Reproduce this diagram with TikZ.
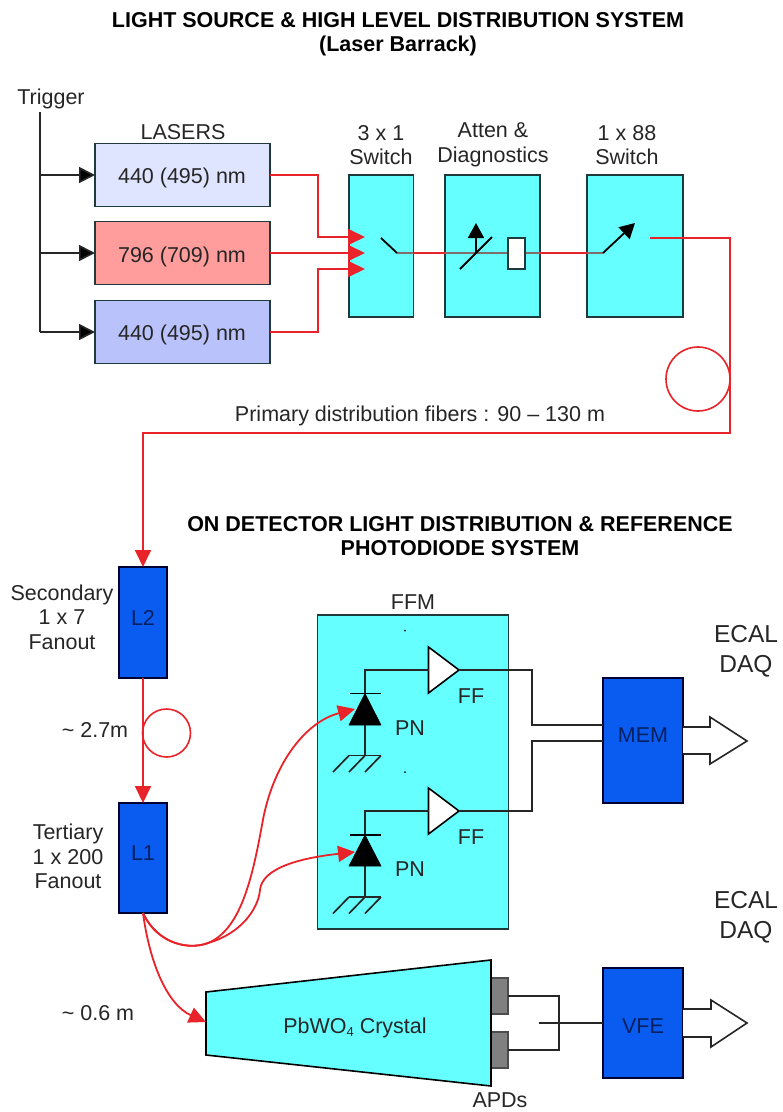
\documentclass[tikz,border=0pt]{standalone}
\usepackage{fontspec}
\setmainfont{Liberation Sans}
\usetikzlibrary{arrows.meta}
\definecolor{ink}{HTML}{262626}
\definecolor{cyanbox}{HTML}{66FFFF}
\definecolor{bluebox}{HTML}{0A5CF0}
\definecolor{navy}{HTML}{06205F}
\definecolor{redline}{HTML}{E8242A}
\definecolor{edgegray}{HTML}{1F3A3A}
\definecolor{greyline}{HTML}{7F6F6A}
\definecolor{laslight}{HTML}{DFE4FF}
\definecolor{lasred}{HTML}{FF9C9C}
\definecolor{lasblue}{HTML}{B9C2FB}
\tikzset{
  every node/.style={inner sep=0pt,outer sep=0pt,text=ink,font=\fontsize{21.5}{24.5}\selectfont},
  lbl/.style={align=center},
  big/.style={align=center,font=\fontsize{24.5}{30}\selectfont},
  ttl/.style={align=center,text=black,font=\fontsize{21.5}{24}\selectfont\bfseries},
  boxed/.style={draw=edgegray,line width=1.8pt},
  laser/.style={boxed,minimum width=175pt,minimum height=63pt},
  cyanrect/.style={boxed,fill=cyanbox},
  bluerect/.style={draw=black!80!blue,line width=1.6pt,fill=bluebox,text=navy},
  wire/.style={draw=black!85,line width=1.7pt},
  fiber/.style={draw=redline,line width=1.8pt},
  blacktip/.style={-{Triangle[length=16pt,width=16pt,fill=black]}},
  redtip/.style={-{Triangle[length=17pt,width=16pt,fill=redline,color=redline]}},
  sw/.style={draw=black,line width=1.8pt},
  inboxline/.style={draw=greyline,line width=1.8pt},
  diode/.style={fill=black,draw=black,line width=.6pt},
  pt/.style={minimum size=0pt},
}
\begin{document}
\begin{tikzpicture}[x=1pt,y=-1pt]
\clip (0,0) rectangle (783,1112);
\fill[white] (0,0) rectangle (783,1112);

% titles
\node[ttl] (title1) at (398,34) {LIGHT SOURCE \& HIGH LEVEL DISTRIBUTION SYSTEM\\(Laser Barrack)};
\node[ttl] (title2) at (460,536) {ON DETECTOR LIGHT DISTRIBUTION \& REFERENCE\\PHOTODIODE SYSTEM};

% lasers
\node[lbl] (trig) at (51,99) {Trigger};
\node[lbl] (lasers) at (183,132) {LASERS};
\node[laser,fill=laslight] (las1) at (182.5,175) {};
\node[laser,fill=lasred] (las2) at (182.5,253) {};
\node[laser,fill=lasblue] (las3) at (182.5,332) {};
\node (las1t) at (182,178) {440 (495) nm};
\node (las2t) at (182,257) {796 (709) nm};
\node (las3t) at (182,335) {440 (495) nm};

% trigger bus
\coordinate (tt) at (40,112);
\coordinate (t1) at (40,175);
\coordinate (t2) at (40,253);
\coordinate (t3) at (40,332);
\draw[wire] (tt) -- (t3);
\draw[wire,blacktip] (t1) -- (las1.west);
\draw[wire,blacktip] (t2) -- (las2.west);
\draw[wire,blacktip] (t3) -- (las3.west);

% boxes
\node[cyanrect,minimum width=64.5pt,minimum height=142pt] (sw3) at (381.2,246) {};
\node[cyanrect,minimum width=95pt,minimum height=142pt] (att) at (492.5,246) {};
\node[cyanrect,minimum width=96pt,minimum height=142pt] (sw88) at (635,246) {};
\node[lbl] (sw3l) at (381,145) {3 x 1\\Switch};
\node[lbl] (attl) at (493,145) {Atten \&\\Diagnostics};
\node[lbl] (sw88l) at (627,145) {1 x 88\\Switch};

% red inputs
\coordinate (in1) at (365,237);
\coordinate (in2) at (365,253);
\coordinate (in3) at (365,269);
\draw[fiber,redtip] (las1.east) -- (318,175) -- (318,237) -- (in1);
\draw[fiber,redtip] (las2.east) -- (in2);
\draw[fiber,redtip] (las3.east) -- (318,332) -- (318,269) -- (in3);

% main optical line
\coordinate (pivA) at (397,253);
\coordinate (armA) at (381,238);
\coordinate (pivB) at (603,253);
\coordinate (armB) at (635,223);
\coordinate (outB) at (650,238);
\draw[fiber] (pivA) -- (pivB);
\draw[inboxline] (pivA) -- (413,253);
\draw[inboxline] (445,253) -- (508,253);
\draw[inboxline] (525,253) -- (540,253);
\draw[inboxline] (587,253) -- (pivB);
\draw[sw] (armA) -- (pivA);
\draw[sw,-{Triangle[length=15pt,width=16pt,fill=black]}] (pivB) -- (armB);
\node[draw=edgegray,line width=1.5pt,fill=white,minimum width=17pt,minimum height=31pt] (atten) at (516.5,253.5) {};
\coordinate (slA) at (460,269);
\coordinate (slB) at (492,237);
\coordinate (upA) at (476,253);
\coordinate (upB) at (476,223);
\draw[sw] (slA) -- (slB);
\draw[sw,-{Triangle[length=15pt,width=16pt,fill=black]}] (upA) -- (upB);

% primary fibre
\coordinate (r1) at (730,238);
\coordinate (r2) at (730,433);
\coordinate (r3) at (143,433);
\node[bluerect,minimum width=48pt,minimum height=111pt] (L2) at (143,622.5) {};
\node[bluerect,minimum width=48pt,minimum height=110pt] (L1) at (143,858) {};
\node[text=navy] (L2t) at (143,618) {L2};
\node[text=navy] (L1t) at (143,853) {L1};
\draw[fiber,redtip] (outB) -- (r1) -- (r2) -- (r3) -- (L2.north);
\node[draw=redline,line width=1.6pt,circle,minimum size=64pt] (coil1) at (698,379) {};
\node[lbl] (prim) at (420,416) {Primary distribution fibers : 90 -- 130 m};

% L2 L1
\draw[fiber,redtip] (L2.south) -- (L1.north);
\node[draw=redline,line width=1.6pt,circle,minimum size=48pt] (coil2) at (166.5,733) {};
\node[lbl] (sec) at (62,617) {Secondary\\1 x 7\\Fanout};
\node[lbl] (ter) at (68,856.5) {Tertiary\\1 x 200\\Fanout};
\node[lbl] (d27) at (95,730) {\textasciitilde{} 2.7m};
\node[lbl] (d06) at (98,1013) {\textasciitilde{} 0.6 m};

% FEM
\node[cyanrect,minimum width=191pt,minimum height=314pt] (fem) at (413,772) {};
\node[lbl] (feml) at (413,602) {FFM};
\fill[black] (405,630.5) circle (1);
\fill[black] (405,772) circle (1);

% channel 1
\coordinate (j1) at (365,670);
\node[pt] (amp1in) at (428.5,670) {};
\node[pt] (amp1out) at (459,670) {};
\fill[white,draw=black,line width=1.6pt] (428.5,647) -- (459,670) -- (428.5,693) -- cycle;
\coordinate (g1) at (365,755.5);
\draw[wire] (amp1in) -- (j1) -- (g1);
\fill[diode] (365,693.5) -- (381,725) -- (349,725) -- cycle;
\draw[sw] (350,693.5) -- (381,693.5);
\draw[wire] (349,755.5) -- (381,755.5);
\draw[wire] (381,755.5) -- (365,772) (365,755.5) -- (349,772) (349,755.5) -- (333,772);
\node[lbl] (ff1) at (471,696) {FF};
\node[lbl] (pn1) at (410,728) {PN};

% channel 2
\coordinate (j2) at (365,811);
\node[pt] (amp2in) at (428.5,811) {};
\node[pt] (amp2out) at (459,811) {};
\fill[white,draw=black,line width=1.6pt] (428.5,788) -- (459,811) -- (428.5,834) -- cycle;
\coordinate (g2) at (365,897);
\draw[wire] (amp2in) -- (j2) -- (g2);
\fill[diode] (365,835) -- (381,866) -- (349,866) -- cycle;
\draw[sw] (350,835) -- (381,835);
\draw[wire] (349,897) -- (381,897);
\draw[wire] (381,897) -- (365,913.5) (365,897) -- (349,913.5) (349,897) -- (333,913.5);
\node[lbl] (ff2) at (471,837) {FF};
\node[lbl] (pn2) at (410,869) {PN};

% MEM
\node[bluerect,minimum width=80pt,minimum height=125pt] (mem) at (643,740.5) {};
\node[text=navy] (meml) at (643,735) {MEM};
\coordinate (m1) at (603,725);
\coordinate (m2) at (603,741);
\draw[wire] (amp1out) -- (532,670) -- (532,725) -- (m1);
\draw[wire] (amp2out) -- (532,811) -- (532,741) -- (m2);
\node[big] (ecal1) at (746,651) {ECAL\\DAQ};
\draw[draw=black!85,line width=1.6pt,fill=white] (683,727) -- (710,727) -- (710,717) -- (747,741) -- (710,764) -- (710,754) -- (683,754);

% red curves to the PN diodes
\coordinate (tipA) at (355,709);
\coordinate (tipB) at (355,852);
\coordinate (tipC) at (206,1022);
\draw[fiber,redtip] (L1.south) .. controls (158,945) and (190,950) .. (208,943)
   .. controls (240,930) and (252,880) .. (262,825)
   .. controls (272,765) and (305,722) .. (tipA);
\draw[fiber,redtip] (L1.south) .. controls (158,945) and (190,950) .. (208,943)
   .. controls (240,934) and (258,910) .. (260,890)
   .. controls (262,868) and (300,858) .. (tipB);

% crystal
\node[lbl] (apdl) at (500,1100.5) {APDs};
\node[fill=black!50,draw=black!70,line width=1.4pt,minimum width=17pt,minimum height=36pt] (apd1) at (499.5,996) {};
\node[fill=black!50,draw=black!70,line width=1.4pt,minimum width=17pt,minimum height=36pt] (apd2) at (499.5,1050) {};
\fill[cyanbox,draw=black,line width=1.6pt] (206,992) -- (491,960) -- (491,1086) -- (206,1055) -- cycle;
\node (crys) at (355,1028) {PbWO\raisebox{-3pt}{\fontsize{13}{13}\selectfont 4} Crystal};
\draw[fiber,redtip] (L1.south) .. controls (150,965) and (168,1005) .. (tipC);

% VFE
\node[bluerect,minimum width=80pt,minimum height=110pt] (vfe) at (643,1023) {};
\node[text=navy] (vfel) at (643,1026) {VFE};
\coordinate (mid) at (539,1023);
\draw[wire] (apd1.east) -- (559,996) -- (559,1050) -- (apd2.east);
\draw[wire] (mid) -- (vfe.west);
\node[big] (ecal2) at (746,917.5) {ECAL\\DAQ};
\draw[draw=black!85,line width=1.6pt,fill=white] (683,1009) -- (711,1009) -- (711,1000) -- (747,1023) -- (711,1047) -- (711,1037) -- (683,1037);
\end{tikzpicture}
\end{document}
